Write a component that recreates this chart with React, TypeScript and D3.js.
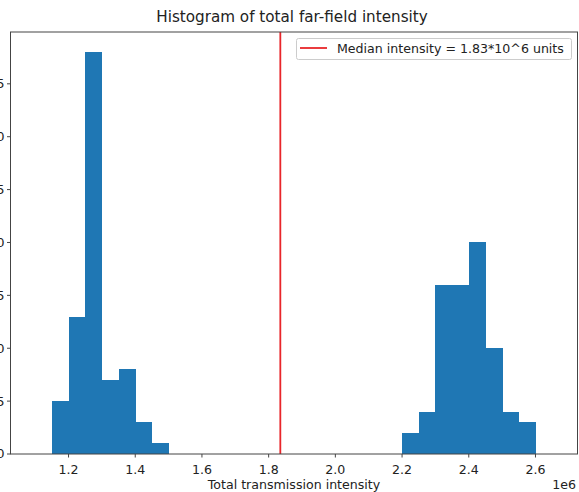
import React from "react";
import * as d3 from "d3";

const binEdges = [
  1.15, 1.2, 1.25, 1.3, 1.35, 1.4, 1.45, 1.5, 1.55, 1.6, 1.65, 1.7, 1.75, 1.8, 1.85,
  1.9, 1.95, 2.0, 2.05, 2.1, 2.15, 2.2, 2.25, 2.3, 2.35, 2.4, 2.45, 2.5, 2.55, 2.6,
];
const counts = [
  5, 13, 38, 7, 8, 3, 1, 0, 0, 0, 0, 0, 0, 0, 0, 0, 0, 0, 0, 0, 0, 2, 4, 16, 16, 20, 10, 4, 3,
];
const xTicks = [1.2, 1.4, 1.6, 1.8, 2.0, 2.2, 2.4, 2.6];
const yTicks = [0, 5, 10, 15, 20, 25, 30, 35];
const medianValue = 1.835;
const title = "Histogram of total far-field intensity";
const xLabel = "Total transmission intensity";
const legendLabel = "Median intensity = 1.83*10^6 units";

const W = 579;
const H = 492;
const font = "DejaVu Sans, sans-serif";

export default function App() {
  const left = 10.5, right = 577.5, top = 32, bottom = 454;
  const x = d3.scaleLinear().domain([1.026, 2.726]).range([left, right]);
  const y = d3.scaleLinear().domain([0, 39.9]).range([bottom, top]);
  const bars = counts.map((c, i) => ({ x0: binEdges[i], x1: binEdges[i + 1], c }));
  const spine = "#444";
  const fs = 12.6;
  return (
    <svg
      width={W}
      height={H}
      style={{ position: "absolute", left: 0, top: 0, background: "#fff" }}
      fontFamily={font}
    >
      <rect x={0} y={0} width={W} height={H} fill="#fff" />
      <g shapeRendering="crispEdges">
        {bars.filter(b => b.c > 0).map((b, i) => (
          <rect
            key={i}
            x={x(b.x0)}
            y={y(b.c)}
            width={x(b.x1) - x(b.x0) + 0.5}
            height={y(0) - y(b.c)}
            fill="#1f77b4"
          />
        ))}
      </g>
      <line x1={x(medianValue)} x2={x(medianValue)} y1={top} y2={bottom} stroke="#e8262a" strokeWidth={1.8} />
      {/* spines */}
      <rect x={left} y={top} width={right - left} height={bottom - top} fill="none" stroke={spine} strokeWidth={1} />
      {/* x ticks */}
      {xTicks.map(t => (
        <g key={t} transform={`translate(${x(t)},${bottom})`}>
          <line y1={0} y2={3.5} stroke={spine} />
          <text y={20} textAnchor="middle" fontSize={fs} fill="#222">{t.toFixed(1)}</text>
        </g>
      ))}
      {/* y ticks */}
      {yTicks.map(t => (
        <g key={t} transform={`translate(${left},${y(t)})`}>
          <line x1={0} x2={-3.5} stroke={spine} />
          <text x={-6} dy="0.35em" textAnchor="end" fontSize={fs} fill="#222">{t}</text>
        </g>
      ))}
      <text x={(left + right) / 2} y={489} textAnchor="middle" fontSize={fs} fill="#222">{xLabel}</text>
      <text x={576} y={489} textAnchor="end" fontSize={fs} fill="#222">1e6</text>
      <text x={(left + right) / 2 - 2} y={22} textAnchor="middle" fontSize={15.2} fill="#222">{title}</text>
      {/* legend */}
      <rect x={296.5} y={38.5} width={275} height={21} rx={2} fill="#fff" fillOpacity={0.8} stroke="#ccc" />
      <line x1={300} x2={327} y1={48} y2={48} stroke="#e8262a" strokeWidth={1.8} />
      <text x={337} y={52.5} fontSize={fs} fill="#222">{legendLabel}</text>
    </svg>
  );
}
